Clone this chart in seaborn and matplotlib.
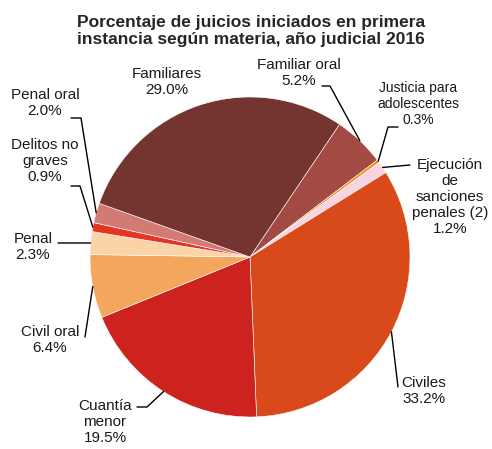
import numpy as np
import seaborn as sns
import matplotlib.pyplot as plt

# datos (porcentajes), en el orden de las rebanadas (sentido horario)
materias = ['Familiar oral', 'Justicia para\nadolescentes', 'Ejecución\nde\nsanciones\npenales (2)',
            'Civiles', 'Cuantía\nmenor', 'Civil oral', 'Penal', 'Delitos no\ngraves',
            'Penal oral', 'Familiares']
porcentajes = [5.2, 0.3, 1.2, 33.2, 19.5, 6.4, 2.3, 0.9, 2.0, 29.0]
colores = ['#A44A44', '#F28A1B', '#F7D4E0', '#D94A1A', '#CC231E',
           '#F4A65C', '#FAD3A6', '#E53324', '#D47A74', '#74342F']

# posiciones de etiquetas y quiebres de las lineas guia (en pixeles)
pos_texto = [(299, 73), (418, 104), (450, 197), (424, 391), (105, 422),
             (50, 340), (33, 247), (45, 161), (45, 103), (167, 82)]
guias = [[(330, 86), (322, 86)], [(388, 127), (398, 127)], [(410, 165)],
         [(398, 387)], [(147, 407), (137, 407)], [(85, 337)], [(58, 243)],
         [(80, 186), (71, 186)], [(81, 118), (71, 118)], []]

CX, CY, R = 250, 257, 160


def px(x, y):
    return (x - CX) / R, (CY - y) / R


sns.set_theme(style='white')
plt.rcParams['font.family'] = ['Liberation Sans', 'DejaVu Sans']

fig = plt.figure(figsize=(4.92, 4.49), dpi=100)
ax = fig.add_axes([0, 0, 1, 1])

wedges, _ = ax.pie(porcentajes, colors=colores, startangle=56, counterclock=False,
                   radius=1, wedgeprops=dict(edgecolor='white', linewidth=0.4))
ax.set_xlim(-CX / R, (492 - CX) / R)
ax.set_ylim(-(449 - CY) / R, CY / R)
ax.set_aspect('equal')
ax.axis('off')

for w, nombre, val, pt, guia in zip(wedges, materias, porcentajes, pos_texto, guias):
    tam = 10 if nombre.startswith('Justicia') else 11
    ax.text(*px(*pt), f'{nombre}\n{val:.1f}%', ha='center', va='center',
            fontsize=tam, color='#1a1a1a', linespacing=1.2)
    if guia:
        ang = np.deg2rad((w.theta1 + w.theta2) / 2)
        xs = [np.cos(ang)] + [px(*p)[0] for p in guia]
        ys = [np.sin(ang)] + [px(*p)[1] for p in guia]
        ax.plot(xs, ys, color='black', lw=1)

ax.text(*px(251, 31), 'Porcentaje de juicios iniciados en primera\ninstancia según materia, año judicial 2016',
        ha='center', va='center', fontsize=12.5, fontweight='bold', linespacing=1.2)

fig.savefig('out.png', dpi=100)
